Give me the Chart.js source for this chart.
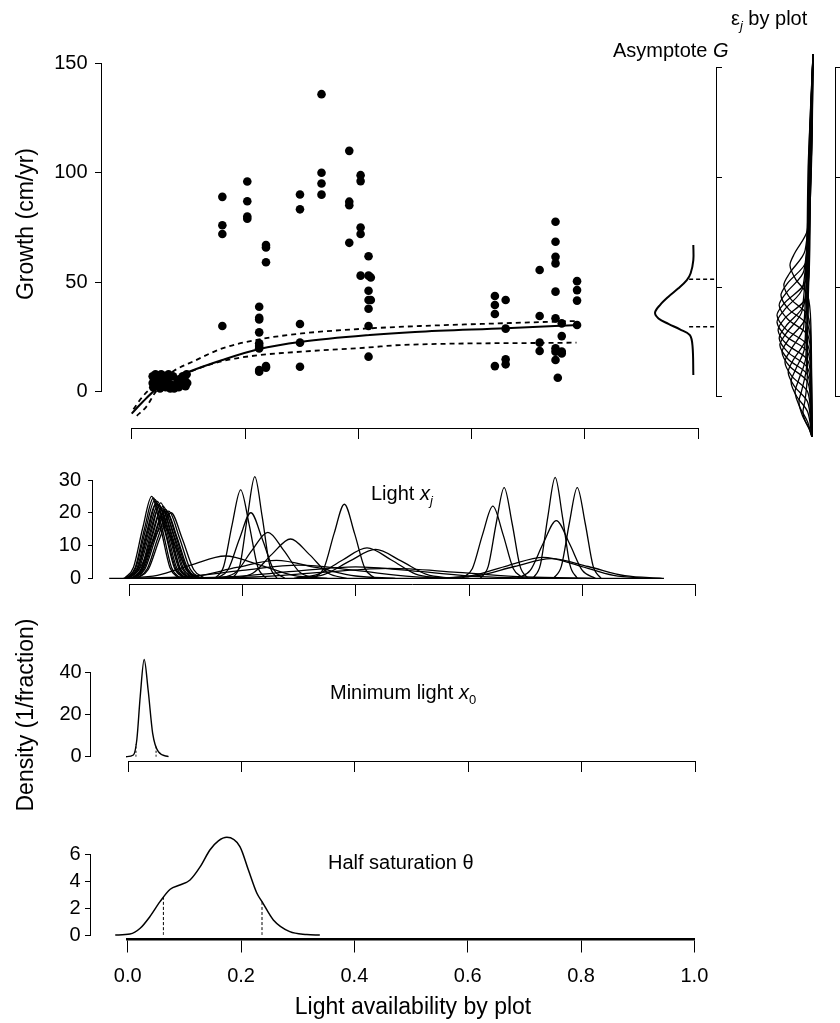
<!DOCTYPE html>
<html>
<head>
<meta charset="utf-8">
<script src="https://cdn.jsdelivr.net/npm/chart.js@4.4.1/dist/chart.umd.min.js"></script>
<style>
body { margin: 0; background: #fff; }
#fig { position: relative; width: 840px; height: 1023px; overflow: hidden; font-family: 'Liberation Sans', Arial, sans-serif; color: #000; }
#fig canvas { position: absolute; left: 0; top: 0; }
.lab { position: absolute; font-size: 20px; line-height: 20px; white-space: nowrap; }
.lab sub { font-size: 13px; vertical-align: -5px; line-height: 0; }
.ttl { position: absolute; font-size: 23px; line-height: 23px; white-space: nowrap; transform: translate(-50%, -50%); }
.rot { transform: translate(-50%, -50%) rotate(-90deg); }
</style>
</head>
<body>
<div id="fig">
  <canvas id="cGrowth" width="840" height="1023"></canvas>
  <canvas id="cG" width="840" height="1023"></canvas>
  <canvas id="cEps" width="840" height="1023"></canvas>
  <canvas id="cLight" width="840" height="1023"></canvas>
  <canvas id="cMin" width="840" height="1023"></canvas>
  <canvas id="cHalf" width="840" height="1023"></canvas>

  <div class="lab" style="left:731px;top:8px">&epsilon;<sub><i>j</i></sub> by plot</div>
  <div class="lab" style="left:613px;top:40px">Asymptote <i>G</i></div>
  <div class="lab" style="left:371px;top:483px">Light <i>x<sub>j</sub></i></div>
  <div class="lab" style="left:330px;top:682px">Minimum light <i>x</i><sub>0</sub></div>
  <div class="lab" style="left:328px;top:852px">Half saturation &theta;</div>
  <div class="ttl rot" style="left:25px;top:224px">Growth (cm/yr)</div>
  <div class="ttl rot" style="left:25px;top:715px">Density (1/fraction)</div>
  <div class="ttl" style="left:413px;top:1006px">Light availability by plot</div>
</div>
<script>
const W = 840, H = 1023;

// growth observations (light of plot, growth cm/yr)
const growthX = [0.037,0.037,0.038,0.040,0.042,0.045,0.047,0.050,0.052,0.055,0.058,0.060,0.063,0.065,0.068,0.070,0.073,0.075,0.080,0.083,0.085,0.088,0.090,0.093,0.095,0.097,0.098,
  0.160,0.160,0.160,0.160, 0.204,0.204,0.204,0.204,
  0.225,0.225,0.225,0.225,0.225,0.225,0.225,0.225,0.225, 0.237,0.237,0.237,0.237,0.237,
  0.297,0.297,0.297,0.297,0.297, 0.335,0.335,0.335,0.335, 0.384,0.384,0.384,0.384,
  0.404,0.404,0.404,0.404,0.404, 0.418,0.418,0.418,0.418,0.418,0.418,0.418, 0.422,0.422,
  0.641,0.641,0.641,0.641, 0.660,0.660,0.660,0.660, 0.720,0.720,0.720,0.720,
  0.748,0.748,0.748,0.748,0.748,0.748,0.748,0.748,0.748, 0.752, 0.759,0.759,0.759,0.759, 0.786,0.786,0.786,0.786];
const growthY = [7,4,2,5,8,3,6,1.5,8,4,7,2,5,8,1.5,3,7,1.5,4,2,5,3,7,6,2.5,8,4,
  89,76,72,30, 96,87,80,79,
  38.8,33.8,33,27.1,22.1,20.9,19.8,9.9,9.1, 67,65.9,59.1,11.7,11,
  90.1,83.3,30.9,22.4,11.4, 135.9,100,95.1,90, 110,86.8,85.2,68,
  98.9,96.2,75,72,53, 61.9,53,46.1,41.9,37.9,30,16, 52.2,41.9,
  43.7,39.6,35.5,11.7, 41.9,28.8,14.8,12.5, 55.6,34.6,22.4,18.6,
  77.6,68.5,61.6,58.6,45.7,33.5,19.8,18.3,14.5, 6.4, 31.2,25.4,18.3,17.5, 50.5,46.4,41.6,30.5];

// fitted curve and 95% bounds
const meanX = [0.0, 0.02, 0.04, 0.07, 0.10, 0.16, 0.225, 0.30, 0.42, 0.50, 0.66, 0.79];
const meanY = [-10, -4.5, 0.5, 5.5, 9, 14.5, 19.5, 22.8, 25.9, 27.3, 29, 30.5];
const upperX = [0.003, 0.02, 0.04, 0.074, 0.11, 0.16, 0.225, 0.30, 0.418, 0.509, 0.66, 0.785];
const upperY = [-8, -2, 3, 9.5, 14, 19.8, 23.9, 26.6, 28.9, 30, 31.3, 32.3];
const lowerX = [0.009, 0.026, 0.044, 0.07, 0.10, 0.16, 0.225, 0.30, 0.418, 0.473, 0.785];
const lowerY = [-11, -6.8, 0.5, 5, 8.8, 14, 16.7, 18.3, 20.2, 21.3, 22.4];

// posterior of asymptote G (value, density)
const gValue = [69.2, 62.3, 56.3, 53.2, 49.4, 45.6, 41.8, 38.3, 35.7, 33.2, 30.7, 28.1, 22.8, 9.9];
const gDens = [0, 0, 0.007, 0.017, 0.039, 0.065, 0.087, 0.1, 0.091, 0.065, 0.035, 0.009, 0.002, 0];
const gInterval = [31.9, 53.5];

// posteriors of plot effects eps_j (value, density)
const epsValue = [
  [156.2,107.6,75.8,65.4,59.9,53.5,46.3,32.6,-18.3],
  [156.2,107.6,66.7,56.3,50.8,44.4,37.2,23.5,-18.3],
  [156.2,107.6,62.1,51.7,46.2,39.8,32.6,18.9,-18.3],
  [156.2,107.6,57.6,47.2,41.7,35.3,28.1,14.4,-18.3],
  [156.2,107.6,53,42.6,37.1,30.7,23.5,9.8,-18.3],
  [156.2,107.6,49.9,39.5,34,27.6,20.4,6.7,-18.3],
  [156.2,107.6,46.2,35.8,30.3,23.9,16.7,3,-18.3],
  [156.2,107.6,42.6,32.2,26.7,20.3,13.1,-0.6,-18.3],
  [156.2,107.6,39.4,29,23.5,17.1,9.9,-3.8,-18.3],
  [156.2,107.6,36.2,25.8,20.3,13.9,6.7,-7,-18.3],
  [156.2,107.6,31.7,21.3,15.8,9.4,2.2,-11.5,-18.3],
  [156.2,107.6,27.1,16.7,11.2,4.8,-2.4,-15,-18.3],
  [156.2,107.6,22.6,12.2,6.7,0.3,-6.9,-18.3],
  [156.2,107.6,18,7.6,2.1,-4.3,-11.5,-18.3],
  [156.2,107.6,13.5,3.1,-2.4,-8.8,-14,-18.3],
  [156.2,107.6,8.9,-1.5,-7,-11,-15,-18.3]
];
const epsDens = [
  [0,0.004,0.016,0.051,0.064,0.048,0.015,0.006,0.003],
  [0,0.006,0.022,0.065,0.081,0.061,0.015,0.006,0.003],
  [0,0.009,0.018,0.071,0.089,0.067,0.015,0.006,0.003],
  [0,0.005,0.025,0.075,0.094,0.07,0.015,0.006,0.003],
  [0,0.011,0.02,0.08,0.1,0.075,0.015,0.006,0.003],
  [0,0.007,0.028,0.08,0.1,0.075,0.015,0.006,0.003],
  [0,0.012,0.017,0.078,0.097,0.073,0.015,0.006,0.003],
  [0,0.005,0.024,0.075,0.094,0.07,0.015,0.006,0.003],
  [0,0.01,0.03,0.074,0.092,0.069,0.015,0.006,0.003],
  [0,0.006,0.021,0.069,0.086,0.065,0.015,0.006,0.003],
  [0,0.013,0.026,0.062,0.078,0.059,0.015,0.006,0.003],
  [0,0.008,0.019,0.055,0.069,0.052,0.015,0.005,0.003],
  [0,0.011,0.023,0.049,0.061,0.046,0.015,0.003],
  [0,0.006,0.02,0.04,0.05,0.038,0.015,0.003],
  [0,0.009,0.018,0.031,0.039,0.029,0.012,0.003],
  [0,0.01,0.016,0.022,0.028,0.022,0.01,0.003]
];

// posteriors of plot light x_j
const lightX = [
  [-0.008,0.008,0.024,0.040,0.056,0.072,0.088],
  [-0.005,0.011,0.027,0.043,0.059,0.075,0.091],
  [-0.005,0.012,0.029,0.046,0.063,0.080,0.097],
  [-0.003,0.014,0.031,0.048,0.065,0.082,0.099],
  [-0.001,0.016,0.033,0.050,0.067,0.084,0.101],
  [-0.002,0.016,0.034,0.052,0.070,0.088,0.106],
  [0.000,0.018,0.036,0.054,0.072,0.090,0.108],
  [0.005,0.022,0.039,0.056,0.073,0.090,0.107],
  [0.004,0.022,0.040,0.058,0.076,0.094,0.112],
  [0.006,0.024,0.042,0.060,0.078,0.096,0.114],
  [0.005,0.024,0.043,0.062,0.081,0.100,0.119],
  [0.007,0.026,0.045,0.064,0.083,0.102,0.121],
  [0.009,0.028,0.047,0.066,0.085,0.104,0.123],
  [0.013,0.032,0.051,0.070,0.089,0.108,0.127],
  [0.014,0.034,0.054,0.074,0.094,0.114,0.134],
  [-0.006,0.016,0.038,0.060,0.082,0.104,0.126],
  [0.152,0.167,0.182,0.197,0.212,0.227,0.242],
  [0.183,0.196,0.209,0.222,0.235,0.248,0.261],
  [0.155,0.175,0.195,0.215,0.235,0.255,0.275],
  [0.161,0.189,0.217,0.245,0.273,0.301,0.329],
  [0.186,0.219,0.252,0.285,0.318,0.351,0.384],
  [-0.010,0.050,0.110,0.170,0.230,0.290,0.350],
  [0.326,0.344,0.362,0.380,0.398,0.416,0.434],
  [0.291,0.334,0.377,0.420,0.463,0.506,0.549],
  [0.300,0.345,0.390,0.435,0.480,0.525,0.570],
  [0.050,0.120,0.190,0.260,0.330,0.400,0.470],
  [0.000,0.100,0.200,0.300,0.400,0.500,0.600],
  [0.070,0.180,0.290,0.400,0.510,0.620,0.730],
  [0.588,0.606,0.624,0.642,0.660,0.678,0.696],
  [0.620,0.634,0.648,0.662,0.676,0.690,0.704],
  [0.713,0.726,0.739,0.752,0.765,0.778,0.791],
  [0.685,0.708,0.731,0.754,0.777,0.800,0.823],
  [0.749,0.763,0.777,0.791,0.805,0.819,0.833],
  [0.545,0.607,0.669,0.731,0.793,0.855,0.917],
  [0.550,0.615,0.680,0.745,0.810,0.875,0.940],
  [0.100,0.220,0.340,0.460,0.580,0.700,0.820]
];
const lightY = [
  [0,3.4,15.2,25,15.2,3.4,0],
  [0,3.3,14.9,24.5,14.9,3.3,0],
  [0,3.2,14.6,24,14.6,3.2,0],
  [0,3.1,14,23,14,3.1,0],
  [0,3.2,14.3,23.5,14.3,3.2,0],
  [0,3,13.7,22.5,13.7,3,0],
  [0,3,13.4,22,13.4,3,0],
  [0,3.1,14,23,14,3.1,0],
  [0,2.9,13.1,21.5,13.1,2.9,0],
  [0,3,13.4,22,13.4,3,0],
  [0,2.8,12.4,20.5,12.4,2.8,0],
  [0,2.8,12.7,21,12.7,2.8,0],
  [0,2.8,12.4,20.5,12.4,2.8,0],
  [0,2.8,12.4,20.5,12.4,2.8,0],
  [0,2.7,12.1,20,12.1,2.7,0],
  [0,2.2,9.7,16,9.7,2.2,0],
  [0,3.6,16.4,27,16.4,3.6,0],
  [0,4.2,18.8,31,18.8,4.2,0],
  [0,2.7,12.1,20,12.1,2.7,0],
  [0,1.9,8.5,14,8.5,1.9,0],
  [0,1.6,7.3,12,7.3,1.6,0],
  [0,0.9,4.1,6.8,4.1,0.9,0],
  [0,3.1,13.7,22.6,13.7,3.1,0],
  [0,1.3,5.6,9.3,5.6,1.3,0],
  [0,1.2,5.3,8.8,5.3,1.2,0],
  [0,0.7,3.3,5.5,3.3,0.7,0],
  [0,0.5,2.4,4,2.4,0.5,0],
  [0,0.5,2.1,3.5,2.1,0.5,0],
  [0,3,13.4,22,13.4,3,0],
  [0,3.7,16.8,27.7,16.8,3.7,0],
  [0,4.2,18.7,30.8,18.7,4.2,0],
  [0,2.4,10.7,17.6,10.7,2.4,0],
  [0,3.7,16.8,27.7,16.8,3.7,0],
  [0,0.9,3.9,6.4,3.9,0.9,0],
  [0,0.8,3.6,6,3.6,0.8,0],
  [0,0.4,1.8,3,1.8,0.4,0]
];
const lightBaseX = [-0.035, 0.944];

// posterior of minimum light x0
const minX = [-0.004, 0.009, 0.015, 0.021, 0.028, 0.035, 0.043, 0.053, 0.071];
const minY = [0, 0.8, 7.9, 28.4, 46.1, 31.6, 11.1, 2.4, 0];
const minCI = [0.0135, 0.049];
const minCIY = [6, 5.5];

// posterior of half saturation theta
const halfX = [-0.022, 0.004, 0.022, 0.039, 0.057, 0.075, 0.092, 0.110, 0.128, 0.145, 0.160, 0.175, 0.198, 0.213, 0.228, 0.237, 0.257, 0.286, 0.316, 0.339];
const halfY = [0, 0.07, 0.5, 1.36, 2.48, 3.4, 3.72, 4.09, 5.08, 6.32, 7.0, 7.26, 6.57, 4.83, 3.1, 2.48, 1.12, 0.25, 0.04, 0];
const halfCI = [0.063, 0.237];
const halfCIY = [2.85, 2.48];

const xTicks = ['0.0', '0.2', '0.4', '0.6', '0.8', '1.0'];

Chart.defaults.font.family = "'Liberation Sans', Arial, Helvetica, sans-serif";
Chart.defaults.font.size = 20;
Chart.defaults.color = '#000';

function pts(xs, ys) { return xs.map((x, i) => ({x: x, y: ys[i]})); }

function line(data, extra) {
  return Object.assign({
    showLine: true, pointRadius: 0, borderColor: '#000', borderWidth: 1.2,
    cubicInterpolationMode: 'monotone', clip: false, fill: false, data: data
  }, extra || {});
}

function axisX(ypos, tl, show, bw) {
  return {
    type: 'linear', min: 0, max: 1, position: {y: ypos},
    ticks: { display: show, stepSize: 0.2, padding: 13, maxRotation: 0, autoSkip: false,
      callback: (v, i) => xTicks[i] },
    grid: { drawOnChartArea: false, drawTicks: true, tickLength: tl, color: '#000', lineWidth: 1 },
    border: { display: true, color: '#000', width: bw || 1 }
  };
}

// axis line and tick marks
function axisY(max, step, xpos, tl) {
  return {
    type: 'linear', min: 0, max: max, position: {x: xpos},
    ticks: { display: false, stepSize: step },
    grid: { drawOnChartArea: false, drawTicks: true, tickLength: tl, color: '#000', lineWidth: 1 },
    border: { display: true, color: '#000', width: 1 }
  };
}

// tick labels only, placed a little left of the axis line
function labelsY(max, step, xpos) {
  return {
    type: 'linear', min: 0, max: max, position: {x: xpos},
    ticks: { display: true, stepSize: step, autoSkip: false, padding: 0 },
    grid: { display: false },
    border: { display: false }
  };
}

function makeChart(id, area, datasets, scales) {
  return new Chart(document.getElementById(id), {
    type: 'scatter',
    data: { datasets: datasets },
    options: {
      responsive: false, animation: false, events: [],
      layout: { padding: { left: area[0], top: area[1], right: W - area[2], bottom: H - area[3] } },
      plugins: { legend: { display: false }, tooltip: { enabled: false } },
      scales: scales
    }
  });
}

// top panel: growth vs light
makeChart('cGrowth', [131.7, 63.3, 698.3, 391.7], [
  { data: pts(growthX, growthY), pointRadius: 4.3, pointBackgroundColor: '#000', pointBorderWidth: 0, clip: false },
  line(pts(meanX, meanY), { borderWidth: 2 }),
  line(pts(upperX, upperY), { borderWidth: 1.8, borderDash: [5, 4] }),
  line(pts(lowerX, lowerY), { borderWidth: 1.8, borderDash: [5, 4] })
], {
  x: axisX(-16.7, 10, false),
  y: axisY(150, 50, -0.054, 6),
  yLab: labelsY(150, 50, -0.078)
});

// asymptote G, drawn sideways
makeChart('cG', [651.2, 67.7, 716.7, 396.7], [
  line(pts(gDens, gValue), { borderWidth: 2, cubicInterpolationMode: 'default', tension: 0.35 }),
  line(pts([0.011, -0.057], [gInterval[1], gInterval[1]]), { borderWidth: 1.5, borderDash: [4, 3] }),
  line(pts([0.011, -0.057], [gInterval[0], gInterval[0]]), { borderWidth: 1.5, borderDash: [4, 3] })
], {
  x: { type: 'linear', min: -0.061, max: 0.11, reverse: true, display: false },
  y: axisY(150, 50, -0.061, -6)
});

// plot effects eps_j, drawn sideways
makeChart('cEps', [769.8, 67.7, 835, 396.7],
  epsValue.map((v, i) => line(pts(epsDens[i], v), { borderWidth: 1.3, cubicInterpolationMode: 'default', tension: 0.3 })),
{
  x: { type: 'linear', min: -0.061, max: 0.12, reverse: true, display: false },
  y: axisY(150, 50, -0.061, -6)
});

// light x_j
const lightSets = lightX.map((xs, i) => line(pts(xs, lightY[i]), { borderWidth: 1.3 }));
lightSets.push(line(pts(lightBaseX, [0, 0]), { borderWidth: 1.3 }));
makeChart('cLight', [129, 480, 695.7, 578.3], lightSets, {
  x: axisX(-2.04, 11, false),
  y: axisY(30, 10, -0.065, 4),
  yLab: labelsY(30, 10, -0.0847)
});

// minimum light x0
makeChart('cMin', [128.3, 672.3, 695, 756.7], [
  line(pts(minX, minY), { borderWidth: 1.4 }),
  line(pts([minCI[0], minCI[0]], [0, minCIY[0]]), { borderWidth: 1, borderDash: [2, 2] }),
  line(pts([minCI[1], minCI[1]], [0, minCIY[1]]), { borderWidth: 1, borderDash: [2, 2] })
], {
  x: axisX(-2.37, 10, false),
  y: axisY(40, 20, -0.066, 5),
  yLab: labelsY(40, 20, -0.0822)
});

// half saturation theta
makeChart('cHalf', [127.7, 854.3, 694.4, 935], [
  line(pts(halfX, halfY), { borderWidth: 1.5 }),
  line(pts([halfCI[0], halfCI[0]], [0, halfCIY[0]]), { borderWidth: 1, borderDash: [3, 2] }),
  line(pts([halfCI[1], halfCI[1]], [0, halfCIY[1]]), { borderWidth: 1, borderDash: [3, 2] })
], {
  x: axisX(-0.32, 12, true, 2.5),
  y: axisY(6, 2, -0.065, 5),
  yLab: labelsY(6, 2, -0.083)
});
</script>
</body>
</html>
